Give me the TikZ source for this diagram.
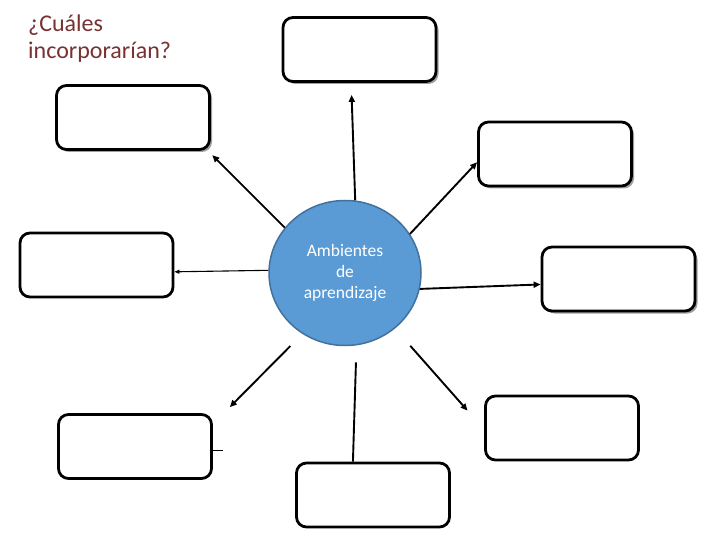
\documentclass[tikz,border=0pt]{standalone}
\usepackage{fontspec}
\setmainfont{Carlito}
\usetikzlibrary{arrows.meta, shadows, shapes.geometric}

\definecolor{hubblue}{RGB}{91,155,213}
\definecolor{hubedge}{RGB}{65,113,156}
\definecolor{asktext}{RGB}{120,50,50}

\begin{document}
\begin{tikzpicture}[
    x=1pt, y={(0pt,-1pt)},
    box/.style={draw, line width=2.8pt, rounded corners=10pt, fill=white, minimum width=153pt, minimum height=64pt},
    shadowbox/.style={box, drop shadow={shadow xshift=2.5pt, shadow yshift=-2.5pt, fill=gray!75, opacity=1}},
    link/.style={line width=1.9pt, -{Triangle[length=7pt, width=6pt]}},
    >=Triangle
]
\path[fill=white, use as bounding box] (0,0) rectangle (720,540);

% Question
\node[anchor=north west, align=left, inner sep=0pt, text=asktext, font=\fontsize{24}{27}\selectfont] (ask) at (28,15) {¿Cuáles\\incorporarían?};

% Centre
\node[ellipse, draw=hubedge, line width=1.5pt, fill=hubblue, minimum width=152pt, minimum height=145pt, inner sep=0pt,
      align=center, text=white, font=\fontsize{17.5}{21}\selectfont] (hub) at (345,273) {Ambientes\\de\\aprendizaje};

% Boxes around
\node[shadowbox] (top) at (359.5,49.5) {};
\node[shadowbox] (upleft) at (133,117.5) {};
\node[shadowbox] (upright) at (555,154) {};
\node[box] (left) at (96.5,265) {};
\node[shadowbox] (right) at (618.5,279) {};
\node[box] (lowleft) at (135,446.5) {};
\node[box] (bottom) at (373,495) {};
\node[box] (lowright) at (562,428) {};

% Connections
\draw[link, shorten >=12pt] (hub.82) -- (top.256.6);
\draw[link, shorten >=6pt] (hub.143) -- (upleft.-24.4);
\draw[link, line width=1.1pt, -{Triangle[length=5pt, width=4pt]}] (hub.178) -- (left.-5);
\draw[link] (hub.31) -- (upright.186.6);
\draw[link] (hub.-12) -- (right.184);
\draw[link, shorten <=17pt, shorten >=24pt] (hub.235) -- (lowleft.16);
\draw[line width=1.9pt, shorten <=17pt] (hub.-81) -- (bottom.121);
\draw[link, shorten <=23pt, shorten >=25pt] (hub.-48.7) -- (lowright.181.5);
\draw[line width=1.5pt] (lowleft.-3.3) -- ++(10,0);

\end{tikzpicture}
\end{document}
